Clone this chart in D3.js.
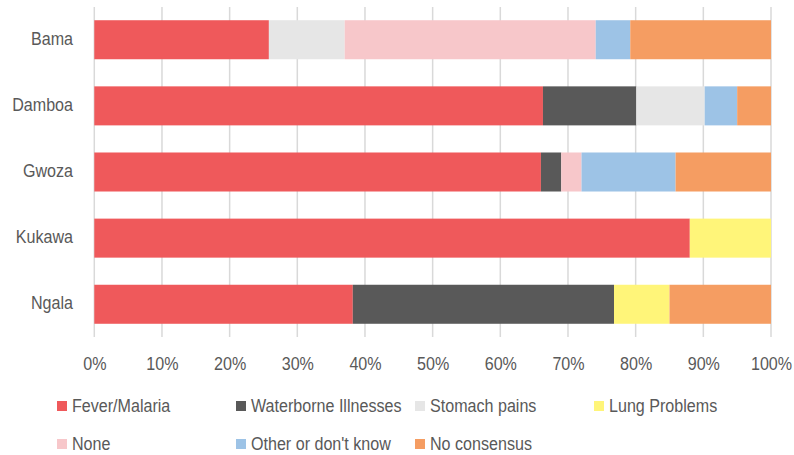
<!DOCTYPE html>
<html>
<head>
<meta charset="utf-8">
<script src="https://cdn.jsdelivr.net/npm/d3@7"></script>
<style>
  body { margin: 0; background: #fff; }
  svg text { font-family: "Liberation Sans", Arial, sans-serif; fill: #595959; font-size: 18.5px; }
</style>
</head>
<body>
<svg id="chart" width="794" height="455"></svg>
<script>
// categories, top to bottom
const sites = ['Bama', 'Damboa', 'Gwoza', 'Kukawa', 'Ngala'];
const seriesNames = ['Fever/Malaria', 'Waterborne Illnesses', 'Stomach pains', 'Lung Problems',
  'None', "Other or don't know", 'No consensus'];
const seriesColors = ['#ef595b', '#595959', '#e6e6e6', '#fff579', '#f7c7ca', '#9dc3e6', '#f59d62'];

// percentages per site, one array per series (in site order)
const feverMalaria = [25.8, 66.3, 66.0, 88.0, 38.2];
const waterborne = [0, 13.8, 3.0, 0, 38.6];
const stomachPains = [11.2, 10.1, 0, 0, 0];
const lungProblems = [0, 0, 0, 12.0, 8.2];
const none = [37.1, 0, 3.0, 0, 0];
const otherDontKnow = [5.1, 4.8, 13.9, 0, 0];
const noConsensus = [20.8, 5.0, 14.1, 0, 15.0];

// stacking order along the bar
const stackOrder = [0, 1, 2, 4, 5, 3, 6];
const values = [feverMalaria, waterborne, stomachPains, lungProblems, none, otherDontKnow, noConsensus];
const xTicks = [0, 10, 20, 30, 40, 50, 60, 70, 80, 90, 100];

const rows = sites.map((s, i) => {
  const r = { site: s };
  seriesNames.forEach((n, j) => { r[n] = values[j][i]; });
  return r;
});

const svg = d3.select('#chart');
const margin = { left: 94.3, right: 23, top: 7, bottom: 118 };
const W = 794, H = 455;
const squeeze = 0.87; // the original font is a bit condensed

const x = d3.scaleLinear().domain([0, 100]).range([margin.left, W - margin.right]);
const y = d3.scaleBand().domain(sites).range([margin.top, H - margin.bottom])
  .paddingInner(0.41).paddingOuter(0.2);

// gridlines
svg.append('g')
  .selectAll('line')
  .data(xTicks)
  .join('line')
  .attr('x1', d => x(d)).attr('x2', d => x(d))
  .attr('y1', margin.top).attr('y2', H - margin.bottom)
  .attr('stroke', '#d9d9d9').attr('stroke-width', 1.5);

const stack = d3.stack().keys(stackOrder.map(i => seriesNames[i]));
const layers = stack(rows);

svg.append('g')
  .selectAll('g')
  .data(layers)
  .join('g')
  .attr('fill', d => seriesColors[seriesNames.indexOf(d.key)])
  .selectAll('rect')
  .data(d => d)
  .join('rect')
  .attr('x', d => x(d[0]))
  .attr('width', d => x(d[1]) - x(d[0]))
  .attr('y', d => y(d.data.site))
  .attr('height', y.bandwidth());

// x axis labels
const xAxis = svg.append('g')
  .attr('transform', `translate(0,${H - margin.bottom})`)
  .call(d3.axisBottom(x).tickValues(xTicks).tickFormat(d => d + '%').tickSize(0));
xAxis.select('.domain').remove();
xAxis.selectAll('text')
  .attr('y', 33).attr('dy', null)
  .attr('fill', '#595959')
  .attr('transform', `scale(${squeeze},1)`);

// y axis labels
const yAxis = svg.append('g')
  .attr('transform', `translate(${margin.left},0)`)
  .call(d3.axisLeft(y).tickSize(0));
yAxis.select('.domain').remove();
yAxis.selectAll('text')
  .attr('x', -24.5).attr('dy', '0.27em')
  .attr('fill', '#595959')
  .attr('transform', `scale(${squeeze},1)`);

// legend
const legendX = d3.scalePoint().domain([0, 1, 2, 3]).range([57, 594]);
const legendY = d3.scalePoint().domain([0, 1]).range([406, 444]);
const leg = svg.append('g')
  .selectAll('g')
  .data(seriesNames)
  .join('g')
  .attr('transform', (d, i) => `translate(${legendX(i % 4)},${legendY(Math.floor(i / 4))})`);
leg.append('rect')
  .attr('x', 0).attr('y', -5).attr('width', 10).attr('height', 10)
  .attr('fill', (d, i) => seriesColors[i]);
leg.append('text')
  .attr('x', 15 / squeeze).attr('y', 5.5)
  .attr('transform', `scale(${squeeze},1)`)
  .text(d => d);
</script>
</body>
</html>
